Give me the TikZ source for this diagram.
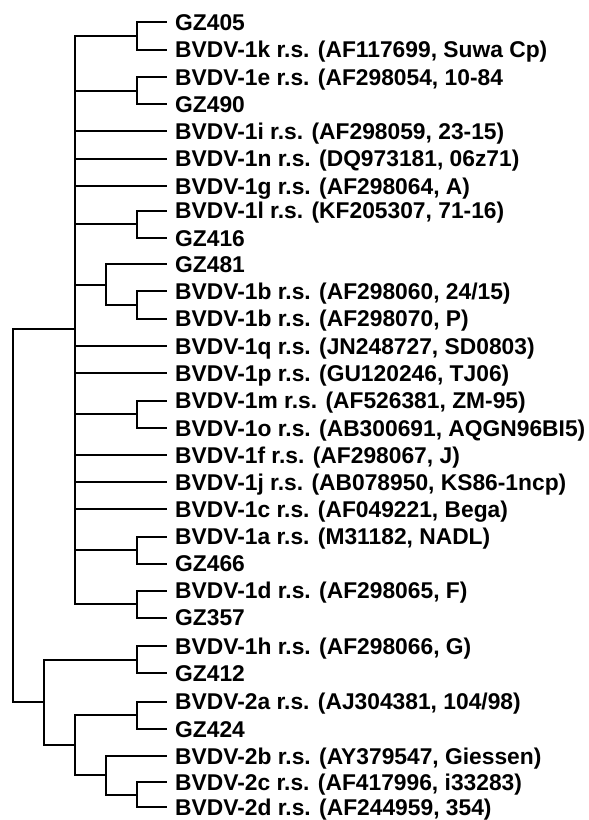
\documentclass[tikz,border=0pt]{standalone}
\usepackage{fontspec}
\setmainfont{Liberation Sans}

\begin{document}
\begin{tikzpicture}[
x=1pt,y=-1pt,
leaf/.style={
anchor=west,
inner xsep=8pt,
inner ysep=0pt,
text height=16pt,
text depth=0pt,
font=\bfseries\fontsize{22.8}{24}\selectfont
},
branch/.style={draw=black,line width=2pt}
]

\useasboundingbox (0,0) rectangle (589,820);

% leaves
\node[leaf] (gz405) at (167,22.3) {GZ405};
\node[leaf] (b1k) at (167,49.7) {BVDV-1k r.s. (AF117699, Suwa Cp)};
\node[leaf] (b1e) at (167,77) {BVDV-1e r.s. (AF298054, 10-84};
\node[leaf] (gz490) at (167,104) {GZ490};
\node[leaf] (b1i) at (167,131.3) {BVDV-1i r.s. (AF298059, 23-15)};
\node[leaf] (b1n) at (167,158.7) {BVDV-1n r.s. (DQ973181, 06z71)};
\node[leaf] (b1g) at (167,186) {BVDV-1g r.s. (AF298064, A)};
\node[leaf] (b1l) at (167,210.7) {BVDV-1l r.s. (KF205307, 71-16)};
\node[leaf] (gz416) at (167,238) {GZ416};
\node[leaf] (gz481) at (167,264.3) {GZ481};
\node[leaf] (b1ba) at (167,291.3) {BVDV-1b r.s. (AF298060, 24/15)};
\node[leaf] (b1bb) at (167,318.7) {BVDV-1b r.s. (AF298070, P)};
\node[leaf] (b1q) at (167,346) {BVDV-1q r.s. (JN248727, SD0803)};
\node[leaf] (b1p) at (167,373.3) {BVDV-1p r.s. (GU120246, TJ06)};
\node[leaf] (b1m) at (167,400.7) {BVDV-1m r.s. (AF526381, ZM-95)};
\node[leaf] (b1o) at (167,428) {BVDV-1o r.s. (AB300691, AQGN96BI5)};
\node[leaf] (b1f) at (167,455.3) {BVDV-1f r.s. (AF298067, J)};
\node[leaf] (b1j) at (167,482.3) {BVDV-1j r.s. (AB078950, KS86-1ncp)};
\node[leaf] (b1c) at (167,509.3) {BVDV-1c r.s. (AF049221, Bega)};
\node[leaf] (b1a) at (167,536.7) {BVDV-1a r.s. (M31182, NADL)};
\node[leaf] (gz466) at (167,563.5) {GZ466};
\node[leaf] (b1d) at (167,590.5) {BVDV-1d r.s. (AF298065, F)};
\node[leaf] (gz357) at (167,617.5) {GZ357};
\node[leaf] (b1h) at (167,646) {BVDV-1h r.s. (AF298066, G)};
\node[leaf] (gz412) at (167,673) {GZ412};
\node[leaf] (b2a) at (167,701.5) {BVDV-2a r.s. (AJ304381, 104/98)};
\node[leaf] (gz424) at (167,729) {GZ424};
\node[leaf] (b2b) at (167,756) {BVDV-2b r.s. (AY379547, Giessen)};
\node[leaf] (b2c) at (167,782) {BVDV-2c r.s. (AF417996, i33283)};
\node[leaf] (b2d) at (167,807) {BVDV-2d r.s. (AF244959, 354)};

% internal nodes
\coordinate (cl1k) at (136.5,36);
\coordinate (cl1e) at (136.5,90.5);
\coordinate (cl1l) at (136.5,224.3);
\coordinate (cl1b) at (136.5,305);
\coordinate (cl481) at (105.5,284.7);
\coordinate (cl1m) at (136.5,414.3);
\coordinate (cl1a) at (136.5,550);
\coordinate (cl1d) at (136.5,604);
\coordinate (bvdv1) at (74.7,329);
\coordinate (cl1h) at (136.5,659.5);
\coordinate (cl2a) at (136.5,715.2);
\coordinate (cl2c) at (136.5,794.5);
\coordinate (cl2b) at (105.5,775);
\coordinate (bvdv2) at (74.7,745);
\coordinate (lower) at (43.5,702);
\coordinate (root) at (12.7,515);

% branches
\draw[branch] (cl1k) |- (gz405.west) (cl1k) |- (b1k.west);
\draw[branch] (cl1e) |- (b1e.west) (cl1e) |- (gz490.west);
\draw[branch] (cl1l) |- (b1l.west) (cl1l) |- (gz416.west);
\draw[branch] (cl1b) |- (b1ba.west) (cl1b) |- (b1bb.west);
\draw[branch] (cl481) |- (gz481.west) (cl481) |- (cl1b);
\draw[branch] (cl1m) |- (b1m.west) (cl1m) |- (b1o.west);
\draw[branch] (cl1a) |- (b1a.west) (cl1a) |- (gz466.west);
\draw[branch] (cl1d) |- (b1d.west) (cl1d) |- (gz357.west);
\draw[branch] (bvdv1) |- (cl1k) (bvdv1) |- (cl1e)
(bvdv1) |- (b1i.west) (bvdv1) |- (b1n.west) (bvdv1) |- (b1g.west)
(bvdv1) |- (cl1l) (bvdv1) |- (cl481)
(bvdv1) |- (b1q.west) (bvdv1) |- (b1p.west) (bvdv1) |- (cl1m)
(bvdv1) |- (b1f.west) (bvdv1) |- (b1j.west) (bvdv1) |- (b1c.west)
(bvdv1) |- (cl1a) (bvdv1) |- (cl1d);
\draw[branch] (cl1h) |- (b1h.west) (cl1h) |- (gz412.west);
\draw[branch] (cl2a) |- (b2a.west) (cl2a) |- (gz424.west);
\draw[branch] (cl2c) |- (b2c.west) (cl2c) |- (b2d.west);
\draw[branch] (cl2b) |- (b2b.west) (cl2b) |- (cl2c);
\draw[branch] (bvdv2) |- (cl2a) (bvdv2) |- (cl2b);
\draw[branch] (lower) |- (cl1h) (lower) |- (bvdv2);
\draw[branch] (root) |- (bvdv1) (root) |- (lower);

\end{tikzpicture}
\end{document}
